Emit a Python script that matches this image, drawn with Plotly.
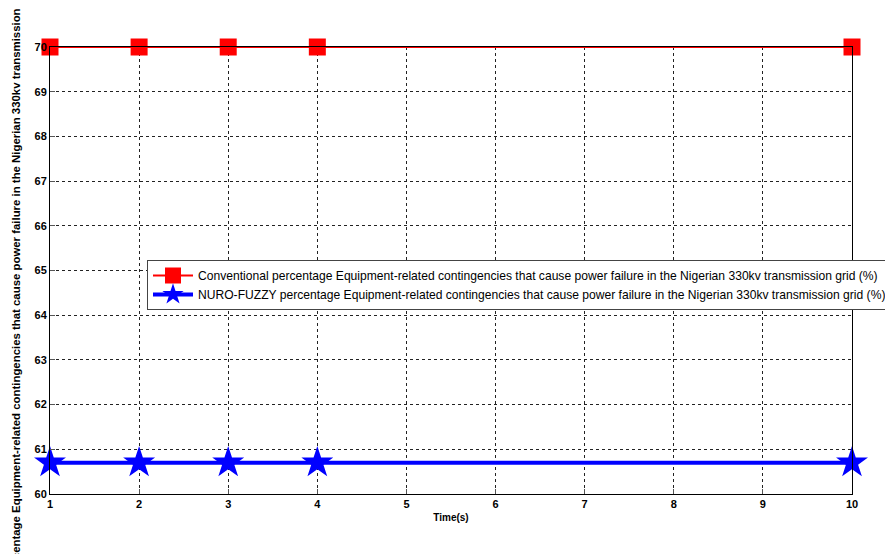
import plotly.graph_objects as go

time_s = [1, 2, 3, 4, 10]
conventional = [70, 70, 70, 70, 70]
neuro_fuzzy = [60.7, 60.7, 60.7, 60.7, 60.7]
x_ticks = [1, 2, 3, 4, 5, 6, 7, 8, 9, 10]
y_ticks = [60, 61, 62, 63, 64, 65, 66, 67, 68, 69, 70]

name_conv = "Conventional percentage Equipment-related contingencies that cause power failure in the Nigerian 330kv transmission grid (%)"
name_nf = "NURO-FUZZY percentage Equipment-related contingencies that cause power failure in the Nigerian 330kv transmission grid (%)"
y_title = "Percentage Equipment-related contingencies that cause power failure in the Nigerian 330kv transmission grid (%)"

fig = go.Figure()
fig.add_trace(go.Scatter(
    x=time_s, y=conventional, mode="lines+markers", name=name_conv,
    line=dict(color="#ff0000", width=2),
    marker=dict(symbol="square", size=17, color="#ff0000"),
    cliponaxis=False,
))
fig.add_trace(go.Scatter(
    x=time_s, y=neuro_fuzzy, mode="lines+markers", name=name_nf,
    line=dict(color="#0000ff", width=4),
    marker=dict(symbol="star", size=24, color="#0000ff"),
    cliponaxis=False,
))

axis_common = dict(
    showline=True, linecolor="black", linewidth=1, mirror=True,
    showgrid=True, gridcolor="#222222", griddash="dot", gridwidth=1,
    ticks="inside", ticklen=5, tickcolor="#555555",
    tickfont=dict(family="Liberation Sans", size=11, color="black", weight="bold"),
    zeroline=False, automargin=False,
)
fig.update_xaxes(range=[1, 10], tickvals=x_ticks, **axis_common,
                 title=dict(text="<b>Time(s)</b>", font=dict(family="Liberation Sans", size=10, color="black"), standoff=4))
fig.update_yaxes(range=[60, 70], tickvals=y_ticks, **axis_common)

# the page body adds an 8px offset; the figure is sized to fit the window
W, H = 885, 546
plot_l, plot_r, plot_t, plot_b = 42, 41, 39, 60
plot_w = W - plot_l - plot_r
plot_h = H - plot_t - plot_b

fig.add_annotation(
    text=y_title, textangle=-90, xref="paper", yref="paper", x=(7 - plot_l) / plot_w, y=0.5,
    xanchor="center", yanchor="middle", showarrow=False,
    font=dict(family="Liberation Sans", size=11.4, color="black", weight="bold"),
)

fig.update_layout(
    width=W, height=H,
    margin=dict(l=plot_l, r=plot_r, t=plot_t, b=plot_b, autoexpand=False),
    paper_bgcolor="white", plot_bgcolor="white",
    showlegend=True,
    legend=dict(x=(139 - plot_l) / plot_w, y=(H - plot_b - 252) / plot_h,
                xanchor="left", yanchor="top",
                bgcolor="white", bordercolor="#444444", borderwidth=1,
                font=dict(family="Liberation Sans", size=12.1, color="black"),
                tracegroupgap=0, itemwidth=40),
)

fig.write_html("out.html")
